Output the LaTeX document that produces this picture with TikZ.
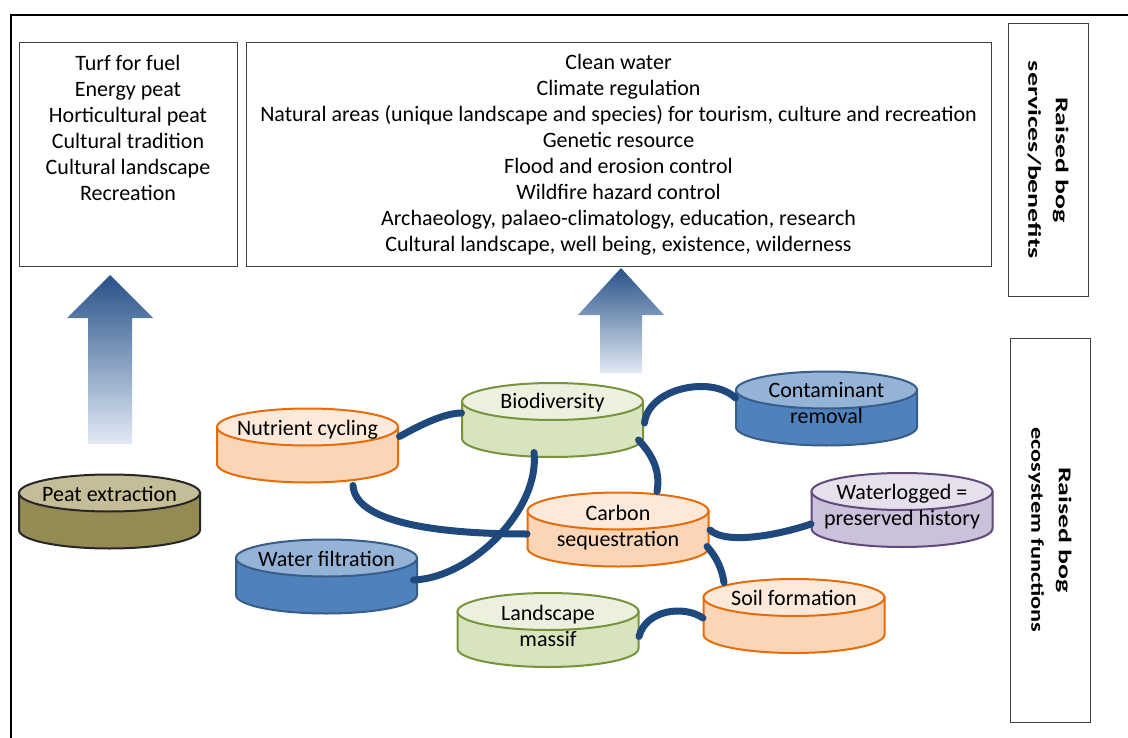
\documentclass[tikz,border=0pt]{standalone}
\usepackage{fontspec}
\usepackage{graphicx}
\setmainfont{Carlito}
\usetikzlibrary{calc}

%colours of the discs: top, body, line
\definecolor{peattop}{RGB}{196,189,151}
\definecolor{peatbody}{RGB}{148,138,84}
\definecolor{peatline}{RGB}{38,38,38}
\definecolor{orangetop}{RGB}{253,233,217}
\definecolor{orangebody}{RGB}{251,213,181}
\definecolor{orangeline}{RGB}{228,108,10}
\definecolor{greentop}{RGB}{235,241,222}
\definecolor{greenbody}{RGB}{215,228,189}
\definecolor{greenline}{RGB}{119,147,60}
\definecolor{bluetop}{RGB}{149,179,215}
\definecolor{bluebody}{RGB}{79,129,189}
\definecolor{blueline}{RGB}{56,93,138}
\definecolor{purpletop}{RGB}{229,224,236}
\definecolor{purplebody}{RGB}{204,193,218}
\definecolor{purpleline}{RGB}{96,74,123}
\definecolor{linkblue}{RGB}{31,73,125}
\definecolor{arrowtop}{RGB}{40,82,137}
\definecolor{arrowbottom}{RGB}{226,234,245}
\definecolor{boxline}{RGB}{64,64,64}

\tikzset{every picture/.style={line width=0.75pt}}
\tikzset{
  benefit box/.style={draw=boxline, inner sep=0pt},
  list text/.style={align=center, inner sep=0.75pt, font=\fontsize{16.5}{19.5}\selectfont},
  side box/.style={draw=boxline, rotate=-90, align=center, inner sep=0pt, font=\bfseries\fontsize{13.5}{20.5}\selectfont},
  disc frame/.style={inner sep=0pt, minimum width=135.75pt, minimum height=55.5pt},
  disc text/.style={align=center, inner sep=0.75pt, font=\fontsize{16.5}{19.5}\selectfont},
  link/.style={draw=linkblue, line width=5.25pt, line cap=round},
  up arrow/.style={top color=arrowtop, bottom color=arrowbottom, draw=none},
}

% stretched line of a side label: length, text
\newcommand{\sideline}[2]{\resizebox{#1}{\height}{#2}}

% disc: name, centre x, top centre y, colour family, text drop, text
\newcommand{\bogdisc}[6]{%
  \draw[draw=#4line, fill=#4body, line width=1.5pt] (#2-90.5,#3) -- (#2-90.5,#3+37) arc[start angle=180, end angle=0, x radius=90.5, y radius=18.5] -- (#2+90.5,#3) -- cycle;
  \draw[draw=#4line, fill=#4top, line width=1.5pt] (#2,#3) ellipse [x radius=90.5, y radius=18.5];
  \node[disc frame] (#1) at (#2,#3+18.5) {};
  \node[disc text] (#1-label) at (#2,#3+#5) {#6};
}

\begin{document}
\begin{tikzpicture}[x=0.75pt,y=0.75pt,yscale=-1,xscale=1]
    \path[use as bounding box] (0,0) rectangle (1128,738);
    \clip (0,0) rectangle (1128,738);

    %frame
    \draw[line width=1.5pt] (11,760) -- (11,15) -- (1150,15);

    %benefit boxes
    \node[benefit box, minimum width=163.5pt, minimum height=167.25pt] (usebox) at (128,154.5) {};
    \node[benefit box, minimum width=558.75pt, minimum height=167.25pt] (servicebox) at (618.5,154.5) {};

    % Text Node
    \node[list text] (usetext) at (128,128) {Turf for fuel\\Energy peat\\Horticultural peat\\Cultural tradition\\Cultural landscape\\Recreation};
    % Text Node
    \node[list text] (servicetext) at (618.5,154.5) {Clean water\\Climate regulation\\Natural areas (unique landscape and species) for tourism, culture and recreation\\Genetic resource\\Flood and erosion control\\Wildfire hazard control\\Archaeology, palaeo-climatology, education, research\\Cultural landscape, well being, existence, wilderness};

    %side labels
    \node[side box, minimum width=204pt, minimum height=60pt] (benefitlabel) at (1048,160) {\sideline{94pt}{Raised bog}\\\sideline{148.5pt}{services/benefits}};
    \node[side box, minimum width=288pt, minimum height=60pt] (functionlabel) at (1050,530) {\sideline{94.5pt}{Raised bog}\\\sideline{154pt}{ecosystem functions}};

    %arrows
    \shade[up arrow] (110,275) -- (153,318) -- (132,318) -- (132,444) -- (88,444) -- (88,318) -- (67,318) -- cycle;
    \shade[up arrow] (621,268) -- (664,315) -- (642,315) -- (642,373) -- (600,373) -- (600,315) -- (578,315) -- cycle;

    %discs
    \bogdisc{peat}{109.5}{493}{peat}{1}{Peat extraction}
    \bogdisc{nutrient}{307.5}{427}{orange}{3}{Nutrient cycling}
    \bogdisc{water}{326.5}{558}{blue}{1}{Water filtration}
    \bogdisc{biodiv}{552.5}{401.5}{green}{1}{Biodiversity}
    \bogdisc{carbon}{618}{511}{orange}{17}{Carbon\\sequestration}
    \bogdisc{landscape}{548}{611.5}{green}{14}{Landscape\\massif}
    \bogdisc{contam}{826.5}{390}{blue}{13}{Contaminant\\removal}
    \bogdisc{logged}{902}{491.5}{purple}{15}{Waterlogged =\\preserved history}
    \bogdisc{soil}{794}{597.5}{orange}{0}{Soil formation}

    %links
    \draw[link] ($(nutrient.east)+(1,-9)$) .. controls +(18,-10) and +(-18,0) .. ($(biodiv.west)+(0,-7)$);
    \draw[link] ($(nutrient.south)+(45.5,2.5)$) .. controls +(2,35) and +(-98,0) .. ($(carbon.west)+(0,4.5)$);
    \draw[link] ($(biodiv.south)+(-18.5,-5)$) .. controls +(6,58) and +(57,-2) .. ($(water.east)+(-4,3.5)$);
    \draw[link] ($(biodiv.east)+(1,3)$) .. controls +(4,-35) and +(-24,-23) .. ($(contam.west)+(0,-10.5)$);
    \draw[link] ($(biodiv.east)+(-5,20)$) .. controls +(17,18) and +(3,-17) .. ($(carbon.north)+(39,-0.5)$);
    \draw[link] ($(carbon.east)+(1,0.5)$) .. controls +(16,15) and +(-32,11) .. ($(logged.west)+(0,14)$);
    \draw[link] ($(carbon.east)+(-2,17)$) .. controls +(10,11) and +(-2,-13) .. ($(soil.north)+(-70,4)$);
    \draw[link] ($(landscape.east)+(0,6.5)$) .. controls +(7,-27) and +(-19,-13) .. ($(soil.west)+(0,2)$);

\end{tikzpicture}
\end{document}
